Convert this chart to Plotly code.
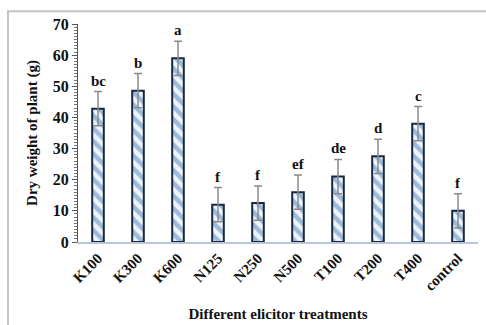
import plotly.graph_objects as go

categories = ["K100", "K300", "K600", "N125", "N250", "N500", "T100", "T200", "T400", "control"]
values = [42.8, 48.6, 59.0, 12.0, 12.5, 16.0, 21.0, 27.5, 38.0, 10.0]
errors = [5.5, 5.5, 5.5, 5.5, 5.5, 5.5, 5.5, 5.5, 5.5, 5.5]
letters = ["bc", "b", "a", "f", "f", "ef", "de", "d", "c", "f"]
y_ticks = [0, 10, 20, 30, 40, 50, 60, 70]

SERIF = "Liberation Serif"

fig = go.Figure()
fig.add_trace(go.Bar(
    x=categories, y=values, width=0.29,
    marker=dict(
        color="white",
        line=dict(color="#1b2740", width=2),
        pattern=dict(shape="\\", fgcolor="#4a82bd", bgcolor="#eef4fa", size=9, solidity=0.5),
    ),
    error_y=dict(type="data", array=errors, visible=True, color="#8a8a8a", thickness=1.5, width=4),
    showlegend=False,
))

for c, v, e, t in zip(categories, values, errors, letters):
    fig.add_annotation(x=c, y=v + e, text=t, showarrow=False, yanchor="bottom", yshift=1,
                       font=dict(family=SERIF, size=15, color="#111111", weight="bold"))

# outer frame (light gray), left and top edges visible
fig.add_shape(type="rect", xref="paper", yref="paper", x0=-0.175, x1=1.2, y0=-0.6, y1=1.058,
              line=dict(color="#c4c4c4", width=2), fillcolor="rgba(0,0,0,0)", layer="below")

fig.update_layout(
    width=486, height=325,
    margin=dict(l=78, r=8, t=24, b=83),
    paper_bgcolor="white", plot_bgcolor="rgba(0,0,0,0)",
    font=dict(family=SERIF, color="#111111"),
)
fig.update_xaxes(
    automargin=False,
    tickangle=-45, tickfont=dict(family=SERIF, size=15, color="#111111", weight="bold"),
    showline=True, linecolor="#b8c8d8", linewidth=1.5, ticks="", showgrid=False,
    title=dict(text="Different elicitor treatments", standoff=16,
               font=dict(family=SERIF, size=15, color="#111111", weight="bold")),
)
fig.update_yaxes(
    automargin=False,
    range=[0, 70], tickvals=y_ticks, showgrid=False, zeroline=False,
    showline=True, linecolor="#555555", linewidth=1.2,
    ticks="outside", ticklen=5, tickcolor="#555555",
    minor=dict(dtick=1, ticks="outside", ticklen=3, tickcolor="#777777"),
    tickfont=dict(family=SERIF, size=16, color="#111111", weight="bold"),
    title=dict(text="Dry weight of plant (g)", standoff=11,
               font=dict(family=SERIF, size=15, color="#111111", weight="bold")),
)

fig.write_html("out.html", config={"displayModeBar": False},
               post_script="document.body.style.margin='0';document.body.style.overflow='hidden';")
